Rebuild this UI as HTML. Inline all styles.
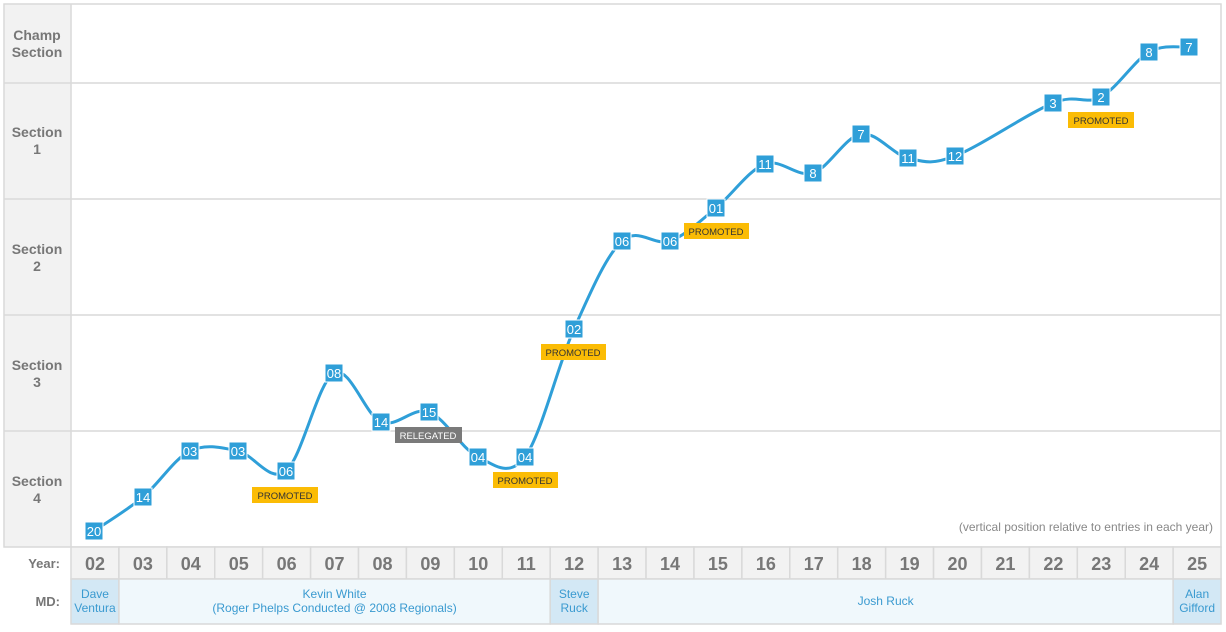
<!DOCTYPE html>
<html><head><meta charset="utf-8"><style>
body{margin:0;background:#fff;width:1226px;height:627px;overflow:hidden;font-family:"Liberation Sans",sans-serif}
</style></head><body>
<svg id="s" width="1226" height="627" xmlns="http://www.w3.org/2000/svg" font-family="Liberation Sans, sans-serif">
<rect x="4" y="4" width="67" height="543" fill="#f2f2f2"/>
<rect x="71" y="4" width="1150" height="543" fill="#fff"/>
<g stroke="#d9d9d9" stroke-width="1.5" fill="none">
<rect x="4" y="4" width="1217" height="543"/>
<line x1="71" y1="4" x2="71" y2="547"/>
<line x1="4" y1="83" x2="1221" y2="83"/>
<line x1="4" y1="199" x2="1221" y2="199"/>
<line x1="4" y1="315" x2="1221" y2="315"/>
<line x1="4" y1="431" x2="1221" y2="431"/>
</g>
<g fill="#777" font-size="14" font-weight="bold" text-anchor="middle">
<text x="37" y="40">Champ</text><text x="37" y="57">Section</text>
<text x="37" y="137">Section</text><text x="37" y="154">1</text>
<text x="37" y="254">Section</text><text x="37" y="271">2</text>
<text x="37" y="370">Section</text><text x="37" y="387">3</text>
<text x="37" y="486">Section</text><text x="37" y="503">4</text>
</g>
<text x="1213" y="531" font-size="12" fill="#888" text-anchor="end">(vertical position relative to entries in each year)</text>
<g id="yr"></g>
<g fill="#777" font-size="13" font-weight="bold" text-anchor="end">
<text x="60" y="568">Year:</text><text x="60" y="606">MD:</text>
</g>
<path id="curve" fill="none" stroke="#2f9fd8" stroke-width="3"/>
<g id="pts"></g>
<g font-size="9.5" text-anchor="middle">
<rect x="252" y="487" width="66" height="16" fill="#fbbc05"/><text x="285" y="499" fill="#333">PROMOTED</text>
<rect x="395" y="427" width="67" height="16" fill="#7a7a7a"/><text x="428" y="439" fill="#fff">RELEGATED</text>
<rect x="493" y="472" width="65" height="16" fill="#fbbc05"/><text x="525" y="484" fill="#333">PROMOTED</text>
<rect x="541" y="344" width="65" height="16" fill="#fbbc05"/><text x="573" y="356" fill="#333">PROMOTED</text>
<rect x="684" y="223" width="65" height="16" fill="#fbbc05"/><text x="716" y="235" fill="#333">PROMOTED</text>
<rect x="1068" y="112" width="66" height="16" fill="#fbbc05"/><text x="1101" y="124" fill="#333">PROMOTED</text>
</g>
</svg>
<script>
var NS="http://www.w3.org/2000/svg",s=document.getElementById('s');
function el(t,a,txt,p){var e=document.createElementNS(NS,t);for(var k in a)e.setAttribute(k,a[k]);if(txt!=null)e.textContent=txt;(p||s).appendChild(e);return e;}
var yr=document.getElementById('yr'),x0=71,w=47.92;
for(var i=0;i<24;i++){var x=x0+i*w;el('rect',{x:x,y:547,width:w,height:32,fill:'#f2f2f2',stroke:'#d9d9d9','stroke-width':1.5},null,yr);
el('text',{x:x+w/2,y:570,'font-size':18,'font-weight':'bold',fill:'#777','text-anchor':'middle'},String(i+2).padStart(2,'0'),yr);}
var md=[[0,1,'#d3e8f5',['Dave','Ventura']],[1,10,'#f0f8fc',['Kevin White','(Roger Phelps Conducted @ 2008 Regionals)']],[10,11,'#d3e8f5',['Steve','Ruck']],[11,23,'#f0f8fc',['Josh Ruck']],[23,24,'#d3e8f5',['Alan','Gifford']]];
md.forEach(function(m){var x=x0+m[0]*w,ww=(m[1]-m[0])*w;el('rect',{x:x,y:579,width:ww,height:45,fill:m[2],stroke:'#d9d9d9','stroke-width':1.5},null,yr);
var cy=m[3].length==1?605:598;m[3].forEach(function(t,j){el('text',{x:x+ww/2,y:cy+j*14,'font-size':12,fill:'#3a9ad0','text-anchor':'middle'},t,yr);});});
var P=[[94,531,'20'],[143,497,'14'],[190,451,'03'],[238,451,'03'],[286,471,'06'],[334,373,'08'],[381,422,'14'],[429,412,'15'],[478,457,'04'],[525,457,'04'],[574,329,'02'],[622,241,'06'],[670,241,'06'],[716,208,'01'],[765,164,'11'],[813,173,'8'],[861,134,'7'],[908,158,'11'],[955,156,'12'],[1053,103,'3'],[1101,97,'2'],[1149,52,'8'],[1189,47,'7']];
var d='M'+P[0][0]+','+P[0][1];
for(var i=0;i<P.length-1;i++){var p0=P[Math.max(0,i-1)],p1=P[i],p2=P[i+1],p3=P[Math.min(P.length-1,i+2)],t=6;
d+=' C'+(p1[0]+(p2[0]-p0[0])/t)+','+(p1[1]+(p2[1]-p0[1])/t)+' '+(p2[0]-(p3[0]-p1[0])/t)+','+(p2[1]-(p3[1]-p1[1])/t)+' '+p2[0]+','+p2[1];}
document.getElementById('curve').setAttribute('d',d);
var g=document.getElementById('pts');
P.forEach(function(p){el('rect',{x:p[0]-9,y:p[1]-9,width:18,height:18,fill:'#2f9fd8',stroke:'#fff','stroke-width':1},null,g);
el('text',{x:p[0],y:p[1]+5,'font-size':13,fill:'#fff','text-anchor':'middle'},p[2],g);});
</script>
</body></html>
